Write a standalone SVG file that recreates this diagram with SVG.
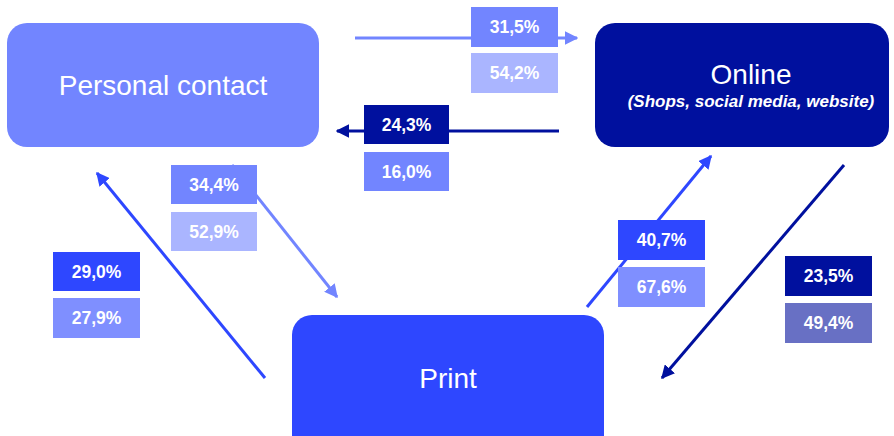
<svg xmlns="http://www.w3.org/2000/svg" width="894" height="436" viewBox="0 0 894 436">
<defs>
<style>
.node text{font-family:"Liberation Sans",Arial,sans-serif;fill:#fff;text-anchor:middle}
.big{font-size:28px}
.sub{font-size:17px;font-weight:bold;font-style:italic}
.lbl rect{stroke:none}
.lbl text{font-family:"Liberation Sans",Arial,sans-serif;font-size:17.5px;font-weight:bold;fill:#fff;text-anchor:middle}
.c{fill:none;stroke-width:3}
.mid{fill:#7285FF}.pale{fill:#AAB5FF}.blue{fill:#2E47FF}.dark{fill:#00109E}.soft{fill:#7F8FFF}.grey{fill:#6870C4}
</style>
<marker id="aMid" viewBox="0 0 10 10" refX="9" refY="5" markerWidth="4.5" markerHeight="4.5" orient="auto"><path d="M0,0L10,5L0,10z" fill="#7285FF"/></marker>
<marker id="aBlue" viewBox="0 0 10 10" refX="9" refY="5" markerWidth="4.5" markerHeight="4.5" orient="auto"><path d="M0,0L10,5L0,10z" fill="#2E47FF"/></marker>
<marker id="aDark" viewBox="0 0 10 10" refX="9" refY="5" markerWidth="4.5" markerHeight="4.5" orient="auto"><path d="M0,0L10,5L0,10z" fill="#00109E"/></marker>
</defs>
<g id="connectors">
<line class="c" x1="355" y1="38" x2="577" y2="38" stroke="#7285FF" marker-end="url(#aMid)"/>
<line class="c" x1="559" y1="131" x2="337" y2="131" stroke="#00109E" marker-end="url(#aDark)"/>
<line class="c" x1="232" y1="165" x2="337" y2="297" stroke="#7285FF" marker-end="url(#aMid)"/>
<line class="c" x1="265" y1="378" x2="97" y2="173" stroke="#2E47FF" marker-end="url(#aBlue)"/>
<line class="c" x1="587" y1="307" x2="711" y2="156" stroke="#2E47FF" marker-end="url(#aBlue)"/>
<line class="c" x1="844" y1="165" x2="662" y2="378" stroke="#00109E" marker-end="url(#aDark)"/>
</g>
<g id="personal" class="node"><rect x="7" y="23" width="312" height="124" rx="20" fill="#7285FF"/><text class="big" x="163" y="95">Personal contact</text></g>
<g id="online" class="node"><rect x="595" y="23" width="294" height="124" rx="20" fill="#00109E"/><text class="big" x="751" y="84">Online</text><text class="sub" x="751" y="107">(Shops, social media, website)</text></g>
<g id="print" class="node"><rect x="292" y="315" width="312" height="140" rx="20" fill="#2E47FF"/><text class="big" x="448" y="388">Print</text></g>
<g id="l315" class="lbl"><rect class="mid" x="471" y="7" width="87" height="40"/><text x="514.5" y="33">31,5%</text></g>
<g id="l542" class="lbl"><rect class="pale" x="471" y="53" width="87" height="40"/><text x="514.5" y="79">54,2%</text></g>
<g id="l243" class="lbl"><rect class="dark" x="364" y="105" width="85" height="39"/><text x="406.5" y="131">24,3%</text></g>
<g id="l160" class="lbl"><rect class="mid" x="364" y="152" width="85" height="39"/><text x="406.5" y="178">16,0%</text></g>
<g id="l344" class="lbl"><rect class="mid" x="171" y="165" width="86" height="39"/><text x="214" y="191">34,4%</text></g>
<g id="l529" class="lbl"><rect class="pale" x="171" y="212" width="86" height="39"/><text x="214" y="238">52,9%</text></g>
<g id="l290" class="lbl"><rect class="blue" x="53" y="252" width="87" height="39"/><text x="96.5" y="278">29,0%</text></g>
<g id="l279" class="lbl"><rect class="soft" x="53" y="298" width="87" height="40"/><text x="96.5" y="324">27,9%</text></g>
<g id="l407" class="lbl"><rect class="blue" x="618" y="220" width="87" height="40"/><text x="661.5" y="246">40,7%</text></g>
<g id="l676" class="lbl"><rect class="soft" x="618" y="267" width="87" height="40"/><text x="661.5" y="293">67,6%</text></g>
<g id="l235" class="lbl"><rect class="dark" x="785" y="256" width="87" height="40"/><text x="828.5" y="282">23,5%</text></g>
<g id="l494" class="lbl"><rect class="grey" x="785" y="303" width="87" height="40"/><text x="828.5" y="329">49,4%</text></g>
</svg>
